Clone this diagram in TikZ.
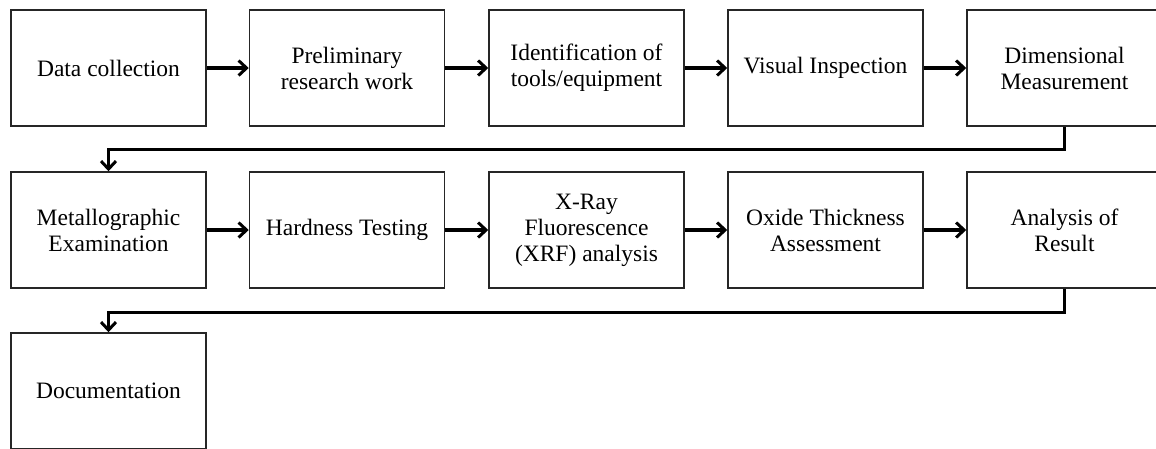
\documentclass[tikz,border=0pt]{standalone}
\usepackage{fontspec}
\setmainfont{Liberation Serif}
\usetikzlibrary{arrows.meta}
\begin{document}
\begin{tikzpicture}[x=1pt,y=-1pt,
  box/.style={draw=black!85, line width=1.5pt, minimum width=195pt, minimum height=116pt,
    align=center, inner sep=0pt, font=\fontsize{23.5}{26}\selectfont},
  arr/.style={line width=3.4pt, -{Straight Barb[length=8pt,width=15pt,line width=3pt]}}]
\useasboundingbox (0,0) rectangle (1156,448);
\node[box] (b1) at (108.5,68) {Data collection};
\node[box] (b2) at (347,68) {Preliminary\\research work};
\node[box] (b3) at (586.5,68) {Identification of\\tools/equipment};
\node[box] (b4) at (825.5,68) {Visual Inspection};
\node[box] (b5) at (1064.5,68) {Dimensional\\Measurement};
\node[box] (b6) at (108.5,230) {Metallographic\\Examination};
\node[box] (b7) at (347,230) {Hardness Testing};
\node[box] (b8) at (586.5,230) {X-Ray\\Fluorescence\\(XRF) analysis};
\node[box] (b9) at (825.5,230) {Oxide Thickness\\Assessment};
\node[box] (b10) at (1064.5,230) {Analysis of\\Result};
\node[box] (b11) at (108.5,391) {Documentation};
\draw[arr] (b1) -- (b2);
\draw[arr] (b2) -- (b3);
\draw[arr] (b3) -- (b4);
\draw[arr] (b4) -- (b5);
\draw[arr] (b6) -- (b7);
\draw[arr] (b7) -- (b8);
\draw[arr] (b8) -- (b9);
\draw[arr] (b9) -- (b10);
\draw[arr] (b5.south) -- ++(0,23) -| (b6.north);
\draw[arr] (b10.south) -- ++(0,24) -| (b11.north);
\end{tikzpicture}
\end{document}
